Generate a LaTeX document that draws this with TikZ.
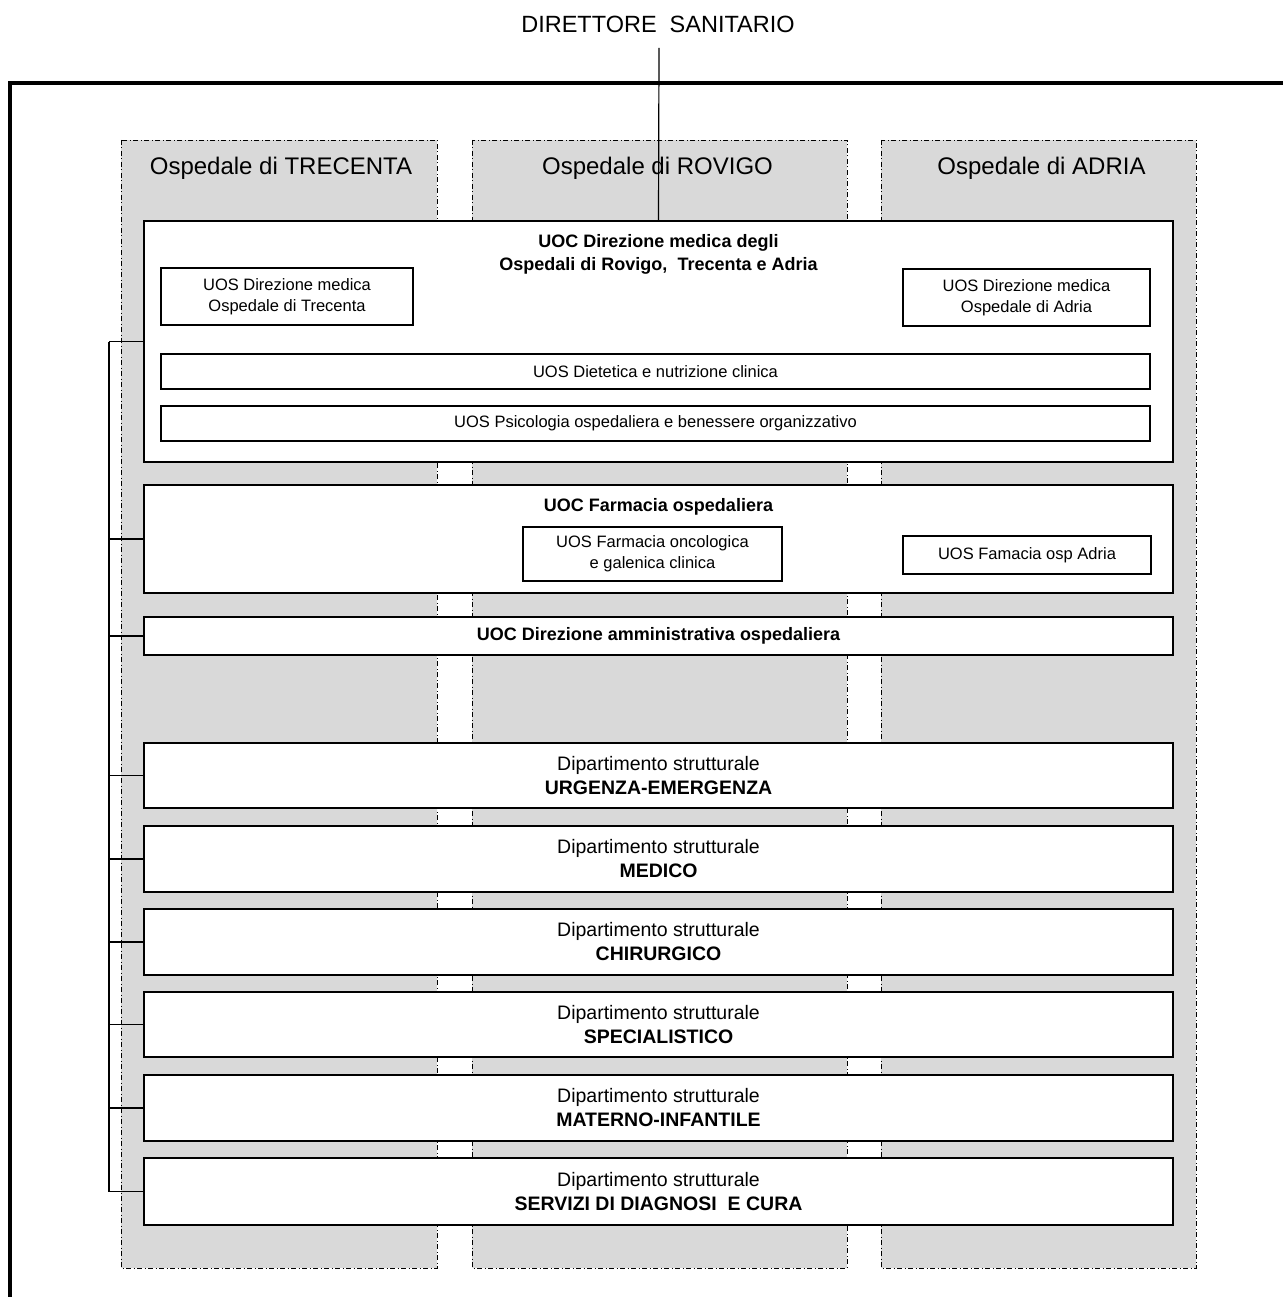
\documentclass[tikz,border=0pt]{standalone}
\usepackage{fontspec}
\setmainfont{Liberation Sans}
\definecolor{colfill}{HTML}{D9D9D9}
\begin{document}
\begin{tikzpicture}[x=1pt,y=-1pt,
  col/.style={fill=colfill, draw=black, line width=0.9pt, dash pattern=on 5pt off 2.5pt on 1pt off 2.5pt},
  box/.style={draw=black, fill=white, line width=1.2pt, inner sep=0pt, outer sep=0pt, anchor=north west, align=center},
  wh/.style 2 args={minimum width=#1, minimum height=#2},
  uosfont/.style={font=\fontsize{16.5}{20.5}\selectfont},
  titlefont/.style={font=\bfseries\fontsize{18}{23}\selectfont, align=center, inner sep=0pt},
  deptfont/.style={font=\fontsize{19.5}{24}\selectfont},
  biglabel/.style={font=\fontsize{24}{28}\selectfont, inner sep=0pt},
  conn/.style={draw=black, line width=1.5pt},
  frame/.style={draw=black, line width=4.5pt}
]
\useasboundingbox (0,0) rectangle (1282,1297);

% outer frame
\draw[frame] (10,1300) -- (10,83) -- (1290,83);

% hospital columns
\path[col] (121,140) rectangle (437,1268);
\path[col] (472,140) rectangle (847,1268);
\path[col] (881,140) rectangle (1196,1268);
\node[biglabel] (lT) at (281,168) {Ospedale di TRECENTA};
\node[biglabel] (lR) at (657.5,168) {Ospedale di ROVIGO};
\node[biglabel] (lA) at (1041.5,168) {Ospedale di ADRIA};

% director
\node[biglabel, font=\fontsize{23.5}{28}\selectfont] (dir) at (658,24) {DIRETTORE\ \ SANITARIO};
\coordinate (dtop) at (659,48);

% UOC Direzione medica
\node[box, wh={1029}{241}] (uoc) at (144,221) {};
\node[titlefont] (uoct) at (658.5,254) {UOC Direzione medica degli\\Ospedali di Rovigo,\ \ Trecenta e Adria};
\node[box, wh={252}{57}, uosfont] (uosT) at (161,268) {UOS Direzione medica\\Ospedale di Trecenta};
\node[box, wh={247}{57}, uosfont] (uosA) at (903,269) {UOS Direzione medica\\Ospedale di Adria};
\node[box, wh={989}{35}, uosfont] (diet) at (161,354) {UOS Dietetica e nutrizione clinica};
\node[box, wh={989}{35}, uosfont] (psi) at (161,406) {UOS Psicologia ospedaliera e benessere organizzativo};

\draw[conn, line width=1.2pt] (dtop) -- (uoc.north);

% Farmacia
\node[box, wh={1029}{108}] (farm) at (144,485) {};
\node[titlefont] (farmt) at (658.5,507) {UOC Farmacia ospedaliera};
\node[box, wh={259}{54}, font=\fontsize{16.5}{21}\selectfont] (uosFO) at (523,527) {UOS Farmacia oncologica\\e galenica clinica};
\node[box, wh={248}{38}, uosfont] (uosFA) at (903,536) {UOS Famacia osp Adria};

% Direzione amministrativa
\node[box, wh={1029}{38}, font=\bfseries\fontsize{18}{23}\selectfont] (amm) at (144,617) {UOC Direzione amministrativa ospedaliera};

% Dipartimenti
\node[box, wh={1029}{65}, deptfont] (d1) at (144,743) {Dipartimento strutturale\\\textbf{URGENZA-EMERGENZA}};
\node[box, wh={1029}{66}, deptfont] (d2) at (144,826) {Dipartimento strutturale\\\textbf{MEDICO}};
\node[box, wh={1029}{66}, deptfont] (d3) at (144,909) {Dipartimento strutturale\\\textbf{CHIRURGICO}};
\node[box, wh={1029}{65}, deptfont] (d4) at (144,992) {Dipartimento strutturale\\\textbf{SPECIALISTICO}};
\node[box, wh={1029}{66}, deptfont] (d5) at (144,1075) {Dipartimento strutturale\\\textbf{MATERNO-INFANTILE}};
\node[box, wh={1029}{67}, deptfont] (d6) at (144,1158) {Dipartimento strutturale\\\textbf{SERVIZI DI DIAGNOSI\ \ E CURA}};

% bus connectors
\coordinate (bus) at (109,0);
\draw[conn] (uoc.west -| bus) -- (d6.west -| bus);
\foreach \n in {uoc,farm,amm,d1,d2,d3,d4,d5,d6}
  \draw[conn] (\n.west -| bus) -- (\n.west);
\end{tikzpicture}
\end{document}
